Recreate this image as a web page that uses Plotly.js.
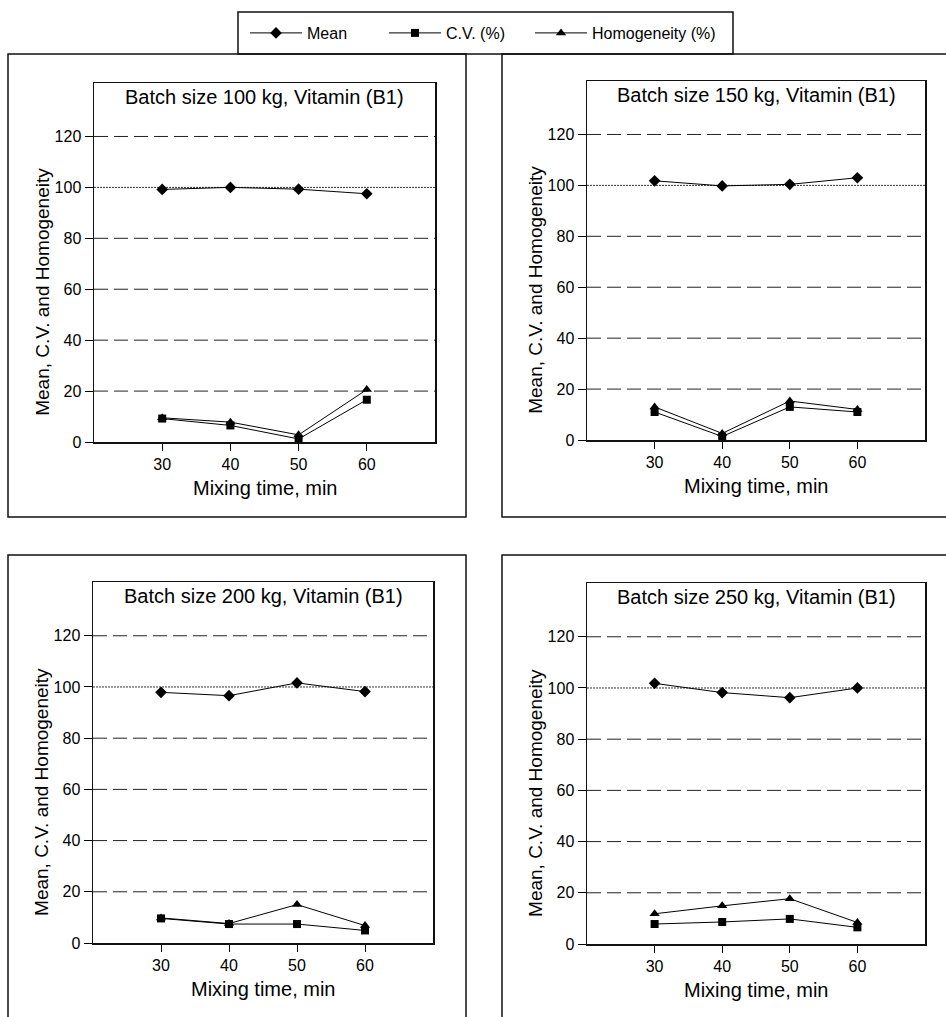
<!DOCTYPE html>
<html>
<head>
<meta charset="utf-8">
<script src="https://cdn.plot.ly/plotly-3.0.1.min.js"></script>
<style>html,body{margin:0;padding:0;background:#fff;}#chart{width:946px;height:1017px;}</style>
</head>
<body>
<div id="chart"></div>
<script>
// ---- data ----
const minutes = [30, 40, 50, 60];
const xTickLabels = ['30', '40', '50', '60'];
const yTickValues = [0, 20, 40, 60, 80, 100, 120];
const panelTitles = [
  'Batch size 100 kg, Vitamin (B1)',
  'Batch size 150 kg, Vitamin (B1)',
  'Batch size 200 kg, Vitamin (B1)',
  'Batch size 250 kg, Vitamin (B1)'
];
const meanValues = [
  [99.2, 100.0, 99.3, 97.5],
  [101.8, 99.8, 100.4, 103.0],
  [97.9, 96.6, 101.6, 98.2],
  [101.8, 98.2, 96.2, 100.0]
];
const cvValues = [
  [9.2, 6.5, 1.2, 16.6],
  [11.0, 1.4, 13.0, 11.0],
  [9.6, 7.4, 7.4, 4.9],
  [7.8, 8.6, 9.8, 6.5]
];
const homValues = [
  [9.5, 7.8, 2.8, 20.6],
  [13.0, 2.6, 15.3, 12.0],
  [9.8, 7.6, 15.0, 6.8],
  [11.8, 14.9, 17.7, 8.4]
];
const seriesNames = ['Mean', 'C.V. (%)', 'Homogeneity (%)'];
const dashedGrid = [20, 40, 60, 80, 120];
const dottedGrid = [100];
const xTitle = 'Mixing time, min';
const yTitle = 'Mean, C.V. and Homogeneity';

// ---- layout helpers ----
const W = 946, H = 1017;
const px = v => v / W;
const py = v => 1 - v / H;
const FONT = 'Liberation Sans, Arial, sans-serif';

const plotBoxes = [
  {x: [94, 435], y: [442, 83]},
  {x: [587, 925], y: [440, 81]},
  {x: [93, 433], y: [943, 582]},
  {x: [587, 925], y: [944, 583]}
];
const frames = [
  [8, 54, 466, 517],
  [502, 54, 960, 517],
  [8, 555, 466, 1030],
  [502, 555, 960, 1030]
];
const legendIds = ['legend', 'legend2', 'legend3'];
const legendLeft = [245, 384, 530];

const data = [];
const layout = {
  width: W, height: H,
  margin: {l: 0, r: 0, t: 0, b: 0},
  paper_bgcolor: '#fff', plot_bgcolor: '#fff',
  font: {family: FONT, color: '#000', size: 16},
  showlegend: true,
  shapes: [],
  annotations: []
};
legendIds.forEach((id, k) => {
  layout[id] = {
    orientation: 'h', x: px(legendLeft[k]), xanchor: 'left', y: py(33), yanchor: 'middle',
    font: {family: FONT, size: 16, color: '#000'}, bgcolor: 'rgba(0,0,0,0)',
    itemwidth: 52
  };
});

// legend box
layout.shapes.push({type: 'rect', xref: 'paper', yref: 'paper',
  x0: px(238), x1: px(733), y0: py(54), y1: py(12),
  line: {color: '#111', width: 1.5}, fillcolor: 'rgba(0,0,0,0)'});

const symbols = ['diamond', 'square', 'triangle-up'];
const sizes = [9, 8, 9];

for (let i = 0; i < 4; i++) {
  const n = i === 0 ? '' : String(i + 1);
  const xa = 'x' + n, ya = 'y' + n;
  const b = plotBoxes[i];
  layout['xaxis' + n] = {
    domain: [px(b.x[0]), px(b.x[1])], range: [20, 70], anchor: ya,
    tickvals: minutes, ticktext: xTickLabels, ticks: 'outside', ticklen: 7, tickwidth: 1,
    tickcolor: '#000', showline: true, mirror: true, linecolor: '#111', linewidth: 1.5,
    showgrid: false, zeroline: false, fixedrange: true,
    tickfont: {family: FONT, size: 16, color: '#000'}
  };
  layout['yaxis' + n] = {
    domain: [py(b.y[0]), py(b.y[1])], range: [0, 141], anchor: xa,
    tickvals: yTickValues, ticks: 'outside', ticklen: 8, tickwidth: 1,
    tickcolor: '#000', showline: true, mirror: true, linecolor: '#111', linewidth: 1.5,
    showgrid: false, zeroline: false, fixedrange: true,
    tickfont: {family: FONT, size: 16, color: '#000'}
  };
  const series = [meanValues[i], cvValues[i], homValues[i]];
  series.forEach((vals, k) => {
    data.push({
      type: 'scatter', mode: 'lines+markers', x: minutes, y: vals,
      xaxis: xa, yaxis: ya, name: seriesNames[k], legendgroup: seriesNames[k],
      legend: legendIds[k],
      showlegend: i === 0,
      line: {color: '#000', width: 1},
      marker: {symbol: symbols[k], size: sizes[k], color: '#000'}
    });
  });
  // gridlines
  dashedGrid.forEach(v => layout.shapes.push({type: 'line', xref: xa + ' domain', yref: ya,
    x0: 0, x1: 1, y0: v, y1: v, layer: 'below', line: {color: '#222', width: 1, dash: '14px,6px'}}));
  dottedGrid.forEach(v => layout.shapes.push({type: 'line', xref: xa + ' domain', yref: ya,
    x0: 0, x1: 1, y0: v, y1: v, layer: 'below', line: {color: '#333', width: 1, dash: '2px,1px'}}));
  // outer frame
  const f = frames[i];
  layout.shapes.push({type: 'rect', xref: 'paper', yref: 'paper',
    x0: px(f[0]), x1: px(f[2]), y0: py(f[3]), y1: py(f[1]),
    line: {color: '#111', width: 1.5}, fillcolor: 'rgba(0,0,0,0)'});
  // panel title
  layout.annotations.push({xref: xa + ' domain', yref: ya + ' domain', x: 0.5, y: 1,
    yanchor: 'top', yshift: -1, showarrow: false, text: panelTitles[i],
    font: {family: FONT, size: 20, color: '#000'}});
  // axis titles
  layout.annotations.push({xref: xa + ' domain', yref: ya + ' domain', x: 0.5, y: 0,
    yanchor: 'middle', yshift: -46, showarrow: false, text: xTitle,
    font: {family: FONT, size: 20, color: '#000'}});
  layout.annotations.push({xref: xa + ' domain', yref: ya, x: 0, y: 59,
    xanchor: 'center', xshift: -51, textangle: -90, showarrow: false, text: yTitle,
    font: {family: FONT, size: 19, color: '#000'}});
}

Plotly.newPlot('chart', data, layout, {displayModeBar: false, staticPlot: true});
</script>
</body>
</html>
